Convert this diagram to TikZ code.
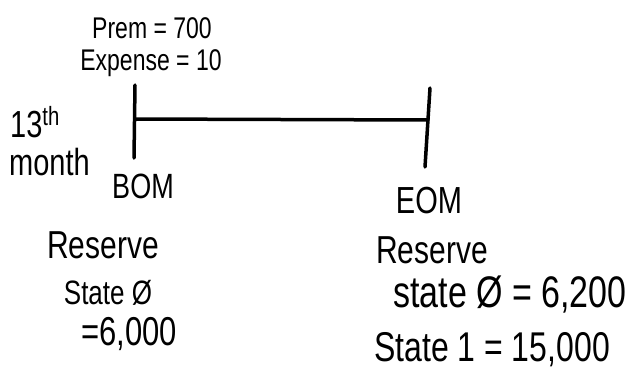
\documentclass[tikz,border=0pt]{standalone}
\usepackage{fontspec}
\setmainfont{Liberation Sans}
\newcommand{\tallt}[1]{\scalebox{1}[1.3]{#1}}
\begin{document}
\begin{tikzpicture}[x=1pt,y=-1pt,
  lbl/.style={inner sep=0pt,font=\fontsize{#1}{#1}\selectfont},
  stroke/.style={line width=3.5pt,line cap=round}]
\useasboundingbox (0,0) rectangle (638,378);
% texts
\node[lbl=23] (prem) at (152,28) {\tallt{Prem = 700}};
\node[lbl=23] (exp) at (151,63) {\tallt{Expense = 10}};
\node[lbl=29,anchor=west] (th) at (10,122) {\tallt{13\textsuperscript{th}}};
\node[lbl=29,anchor=west] (month) at (9,162) {\tallt{month}};
\node[lbl=27] (bom) at (143,186) {\tallt{BOM}};
\node[lbl=29] (eom) at (429,201) {\tallt{EOM}};
\node[lbl=30] (resl) at (103,245) {\tallt{Reserve}};
\node[lbl=26] (s0l) at (108,293) {\tallt{State Ø}};
\node[lbl=31] (v0l) at (129,334) {\tallt{=6,000}};
\node[lbl=30] (resr) at (432,250) {\tallt{Reserve}};
\node[lbl=34] (s0r) at (510,295) {\tallt{state Ø = 6,200}};
\node[lbl=32] (s1r) at (492,350) {\tallt{State 1 = 15,000}};
% timeline
\coordinate (lt) at (135,85);
\coordinate (lb) at (134,158);
\coordinate (lm) at (135,119);
\coordinate (rt) at (430,88);
\coordinate (rb) at (425,167);
\coordinate (rm) at (428,120);
\draw[stroke] (lt) -- (lb);
\draw[stroke] (rt) -- (rb);
\draw[stroke] (lm) -- (rm);
\end{tikzpicture}
\end{document}
